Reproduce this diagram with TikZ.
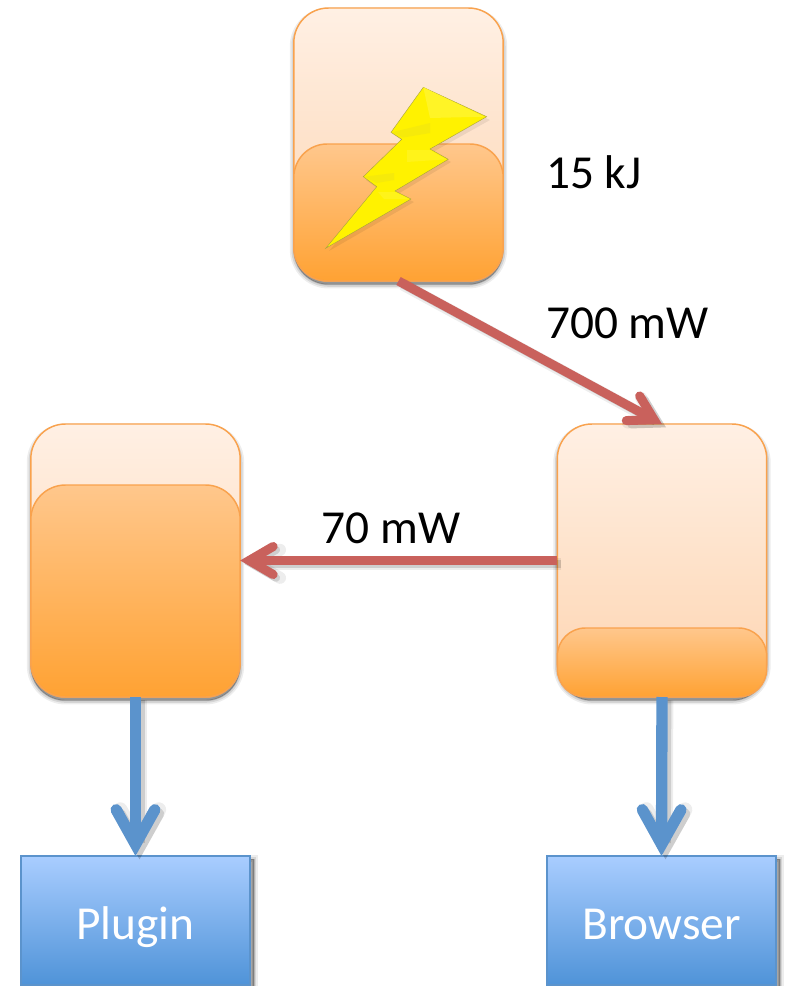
\documentclass[tikz,border=0pt]{standalone}
\usepackage{fontspec}
\setmainfont{Carlito}
\usetikzlibrary{arrows.meta}
\definecolor{edgeorange}{HTML}{F9A24D}
\definecolor{palefrom}{HTML}{FFF0E4}
\definecolor{paleto}{HTML}{FDD4B0}
\definecolor{deepfrom}{HTML}{FFC78C}
\definecolor{deepto}{HTML}{FFA233}
\definecolor{bluefrom}{HTML}{A9CDFF}
\definecolor{blueto}{HTML}{4F93D8}
\definecolor{blueedge}{HTML}{5B93CC}
\definecolor{redline}{HTML}{C9615C}
\tikzset{
  softshadow/.style={
    preaction={draw=black,fill=black,opacity=0.07,line width=6pt,transform canvas={xshift=#1,yshift=-2.6pt}},
    preaction={draw=black,fill=black,opacity=0.10,line width=3.5pt,transform canvas={xshift=#1,yshift=-2.6pt}},
    preaction={draw=black,fill=black,opacity=0.16,line width=1pt,transform canvas={xshift=#1,yshift=-2.6pt}}},
  basebox/.style={rectangle,draw=edgeorange,line width=1.1pt,minimum width=157pt,rounded corners=26pt,inner sep=0pt,outer sep=0pt},
  palebox/.style={basebox,softshadow=0pt,minimum height=204.75pt,top color=palefrom,bottom color=paleto},
  deepbox/.style={basebox,top color=deepfrom,bottom color=deepto},
  bluebox/.style={rectangle,draw=blueedge,line width=1.1pt,minimum width=171.5pt,minimum height=96.75pt,top color=bluefrom,bottom color=blueto,text=white,softshadow=3pt,inner sep=0pt,outer sep=0pt,text height=30pt,text depth=2.2pt,font=\fontsize{35.5}{42}\selectfont},
  valuelabel/.style={text=black,inner sep=0pt,font=\fontsize{35.5}{42}\selectfont},
  arrowshadow/.style={
    preaction={draw=black,opacity=0.07,line width=#1+3pt,transform canvas={xshift=3pt,yshift=-2.5pt}},
    preaction={draw=black,opacity=0.13,line width=#1,transform canvas={xshift=3pt,yshift=-2.5pt}}},
  redarrow/.style={draw=redline,line width=6.8pt,arrowshadow=6pt,-{Straight Barb[length=18pt,width=21pt,line cap=round,line join=miter]}},
  bluearrow/.style={draw=blueedge,line width=8.5pt,arrowshadow=8pt,-{Straight Barb[length=26pt,width=29pt,line cap=round,line join=miter]}},
  boltbody/.style={fill=yellow,draw=black!40!yellow,line width=0.3pt},
}
\begin{document}
\begin{tikzpicture}[x=0.75pt,y=-0.75pt]
\useasboundingbox (0,0) rectangle (785,986);
% source box
\node[palebox] (srcouter) at (398.5,144.5) {};
\node[deepbox,minimum height=102.75pt,rounded corners=25pt] (srcinner) at (398.5,212.5) {};
% right box
\node[palebox] (rightouter) at (662,560.5) {};
\node[deepbox,minimum height=51.75pt,rounded corners=21pt] (rightinner) at (662,662.5) {};
% left box
\node[palebox] (leftouter) at (135.5,560.5) {};
\node[deepbox,minimum height=159pt] (leftinner) at (135.5,591) {};
% blue boxes
\node[bluebox] (plugin) at (135.5,920.5) {Plugin};
\node[bluebox] (browser) at (661.5,920.5) {Browser};
% bolt
\fill[black,opacity=0.07] (426,90) -- (490,120) -- (433,152) -- (451,162) -- (398,194) -- (414,202) -- (329,251) -- (380,190) -- (366,180) -- (405,142) -- (394,135) -- cycle;
\path[boltbody] (423.3,87.3) -- (486.7,116.7) -- (430,149) -- (448.3,159.3) -- (395,191) -- (411,199) -- (325.7,248.3) -- (376.7,186.7) -- (363.3,176.7) -- (401.7,139.3) -- (391,132.3) -- cycle;
\fill[yellow!85!white] (423.3,87.3) -- (484,116.7) -- (430,118) -- cycle;
\fill[yellow!96!black] (392,132.3) -- (430,123) -- (430,133) -- (403,137.5) -- cycle;
\fill[yellow!96!black] (364.5,176.7) -- (394,173) -- (394,180) -- (376.7,183) -- cycle;
\fill[yellow!90!white] (407,150) -- (430,150) -- (446,159.3) -- (407,162) -- cycle;
\fill[yellow!90!white] (378,192) -- (395,192) -- (409,199) -- (384,199) -- cycle;
% labels
\node[valuelabel,anchor=west] (energy) at (546,172) {15 kJ};
\node[valuelabel,anchor=west] (highpower) at (546,323) {700 mW};
\node[valuelabel,anchor=west] (lowpower) at (321.5,528) {70 mW};
% connectors
\draw[redarrow] (srcouter.south) -- (rightouter.north);
\draw[redarrow] (rightouter.west) -- (leftouter.east);
\draw[bluearrow] (leftouter.south) -- (plugin.north);
\draw[bluearrow] (rightouter.south) -- (browser.north);
\end{tikzpicture}
\end{document}
